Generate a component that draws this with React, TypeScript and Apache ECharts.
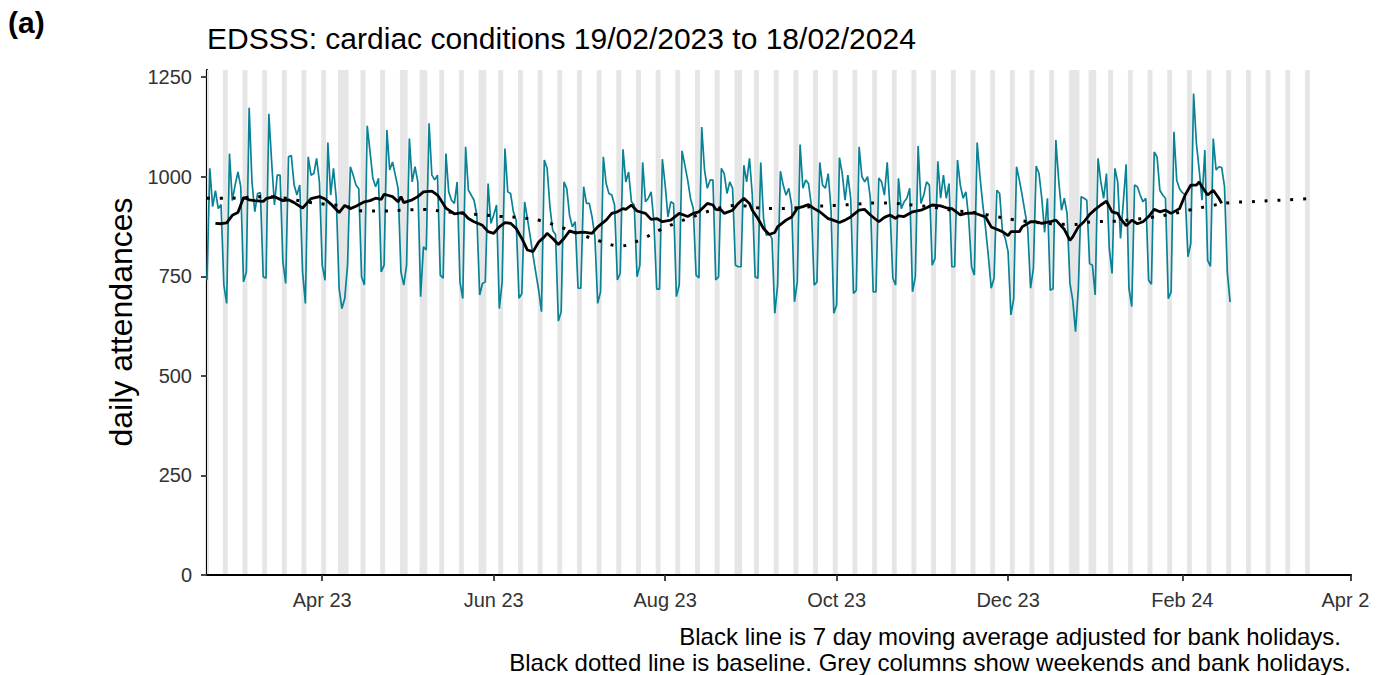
import React, { useEffect, useRef } from "react";
import * as echarts from "echarts";

// Day 0 = Sunday 19/02/2023
const START_DATE = "2023-02-19";
const START = Date.parse(START_DATE + "T00:00:00Z");
const dayOf = (iso: string) => Math.round((Date.parse(iso + "T00:00:00Z") - START) / 86400000);

// Daily attendances 19/02/2023 .. 18/02/2024 (weeks Sun..Sat)
const dailyAttendances = [
  740, 1021, 925, 965, 920, 930, 728,
  682, 1058, 940, 979, 1012, 975, 736,
  761, 1173, 987, 912, 958, 960, 749,
  745, 1158, 1037, 929, 1004, 1004, 786,
  732, 1050, 1053, 979, 954, 979, 761,
  682, 1050, 1004, 1008, 1046, 987, 778,
  740, 1086, 954, 1021, 945, 720, 669,
  694, 778, 1025, 1004, 979, 970, 749,
  728, 1128, 1063, 996, 975, 996, 761,
  778, 1117, 1017, 1037, 1004, 970, 761,
  728, 778, 1096, 987, 1025, 987, 699,
  824, 816, 1134, 1004, 992, 1004, 753,
  745, 1058, 962, 941, 933, 987, 736,
  694, 1075, 966, 954, 941, 904, 703,
  732, 736, 983, 883, 904, 929, 669,
  736, 1071, 962, 958, 912, 891, 695,
  706, 937, 895, 849, 802, 758, 715,
  661, 1042, 1021, 925, 865, 855, 638,
  661, 987, 970, 902, 874, 887, 720,
  720, 975, 933, 933, 899, 849, 682,
  711, 1050, 983, 958, 954, 929, 741,
  757, 1069, 987, 1012, 937, 929, 749,
  778, 1036, 937, 946, 962, 887, 718,
  718, 1044, 979, 899, 937, 933, 699,
  728, 1065, 1029, 992, 946, 920, 753,
  746, 1125, 1017, 971, 992, 992, 741,
  749, 1021, 1008, 958, 987, 970, 778,
  774, 774, 1029, 987, 1046, 954, 749,
  745, 1036, 895, 853, 858, 845, 657,
  728, 1014, 979, 954, 971, 929, 686,
  736, 1081, 971, 992, 983, 929, 728,
  736, 1036, 979, 971, 1008, 918, 657,
  678, 1048, 1008, 941, 1004, 946, 707,
  715, 1075, 1000, 987, 1000, 946, 711,
  711, 997, 987, 954, 1036, 918, 745,
  728, 996, 920, 937, 946, 971, 711,
  749, 1077, 933, 954, 987, 979, 778,
  795, 1039, 946, 1004, 946, 983, 774,
  774, 1042, 979, 946, 962, 895, 774,
  753, 1086, 1000, 930, 870, 800, 720,
  745, 966, 958, 862, 845, 812, 653,
  694, 1025, 992, 954, 912, 870, 720,
  770, 1027, 1008, 945, 860, 946, 715,
  719, 1092, 991, 916, 946, 907, 733,
  690, 611, 720, 950, 946, 941, 782,
  778, 703, 1046, 987, 946, 1008, 820,
  757, 1021, 987, 845, 937, 1031, 720,
  674, 979, 975, 954, 937, 946, 740,
  730, 1062, 1050, 966, 954, 946, 694,
  711, 1113, 991, 970, 960, 955, 799,
  833, 1209, 1084, 1017, 941, 1067, 790,
  775, 1096, 1017, 1025, 1023, 975, 760,
  685,
];

// 7 day moving average (day index, value)
const maDays = [
  3, 5, 7, 9, 11, 13, 15, 17, 20, 21, 24, 27, 29, 31, 34, 37, 40, 42, 44, 47,
  49, 51, 53, 56, 58, 60, 62, 63, 66, 68, 69, 70, 73, 75, 77, 80, 82, 84, 85, 88,
  91, 93, 95, 98, 100, 102, 104, 106, 108, 110, 112, 114, 116, 118, 120, 121, 123, 125, 127, 129,
  131, 134, 137, 139, 142, 144, 146, 148, 149, 151, 153, 156, 158, 160, 162, 165, 168, 171, 173, 175,
  178, 180, 181, 183, 184, 187, 189, 191, 193, 194, 196, 198, 200, 202, 203, 206, 208, 210, 212, 214,
  216, 218, 221, 222, 225, 227, 229, 232, 234, 236, 239, 241, 243, 245, 246, 248, 251, 254, 256, 258,
  261, 263, 265, 268, 270, 273, 275, 277, 279, 281, 283, 285, 286, 289, 290, 293, 295, 297, 300, 302,
  305, 307, 308, 310, 312, 314, 316, 318, 320, 322, 324, 325, 327, 329, 331, 333, 335, 337, 339, 341,
  343, 346, 348, 350, 352, 353, 354, 356, 358, 360, 361,
];
const maValues = [
  883, 882, 884, 903, 910, 948, 942, 940, 938, 945, 950, 940, 942, 935, 921, 945, 950, 944, 932, 910,
  928, 920, 926, 937, 940, 946, 943, 956, 950, 937, 950, 935, 942, 950, 962, 964, 954, 933, 921, 907,
  910, 895, 887, 878, 862, 858, 874, 885, 883, 870, 845, 816, 812, 836, 849, 858, 845, 830, 845, 864,
  859, 861, 858, 874, 891, 908, 912, 920, 918, 929, 914, 908, 893, 895, 887, 891, 908, 900, 908, 912,
  933, 929, 918, 916, 908, 916, 933, 946, 933, 916, 895, 870, 855, 860, 874, 891, 899, 921, 925, 930,
  920, 912, 895, 893, 885, 891, 899, 916, 918, 904, 887, 898, 904, 895, 902, 900, 912, 916, 922, 929,
  927, 922, 920, 904, 908, 909, 904, 899, 874, 868, 862, 852, 862, 862, 874, 887, 887, 883, 887, 891,
  868, 840, 849, 874, 887, 905, 918, 929, 939, 912, 908, 895, 877, 891, 882, 887, 900, 918, 912, 916,
  908, 920, 954, 979, 979, 987, 975, 954, 966, 946, 933,
];

// Baseline (day index, value)
const baselineDays = [
  0, 7, 14, 21, 28, 35, 42, 49, 56, 63, 70, 77, 84, 91, 98, 105, 112, 119, 126, 133,
  140, 147, 154, 161, 168, 175, 182, 189, 196, 203, 210, 217, 224, 231, 238, 245, 252, 259, 266, 273,
  280, 287, 294, 301, 308, 315, 322, 329, 336, 343, 350, 357, 364, 371, 378, 385, 392,
];
const baselineValues = [
  946, 946, 948, 950, 946, 937, 931, 926, 914, 914, 916, 918, 913, 908, 904, 900, 897, 889, 873, 855,
  838, 826, 841, 866, 887, 905, 921, 928, 922, 920, 922, 926, 928, 931, 934, 933, 928, 923, 915, 910,
  901, 892, 886, 882, 880, 887, 888, 892, 898, 906, 917, 927, 935, 937, 940, 942, 945,
];

const bankHolidays = [
  "2023-04-07", "2023-04-10", "2023-05-01", "2023-05-08", "2023-05-29",
  "2023-08-28", "2023-12-25", "2023-12-26", "2024-01-01",
];
const greyFirstDay = "2023-02-18";
const greyLastDay = "2024-03-17";

const xTickDates = ["2023-04-01", "2023-06-01", "2023-08-01", "2023-10-01", "2023-12-01", "2024-02-01", "2024-04-01"];
const xTickLabels = ["Apr 23", "Jun 23", "Aug 23", "Oct 23", "Dec 23", "Feb 24", "Apr 24"];
const yTicks = [0, 250, 500, 750, 1000, 1250];

const FONT = '"Liberation Sans", Arial, Helvetica, sans-serif';

function greyRuns(): number[][] {
  const bh = new Set(bankHolidays.map(dayOf));
  const a = dayOf(greyFirstDay);
  const b = dayOf(greyLastDay);
  const runs: number[][] = [];
  let cur: number[] | null = null;
  for (let d = a; d <= b; d++) {
    const wd = new Date(START + d * 86400000).getUTCDay();
    const grey = wd === 0 || wd === 6 || bh.has(d);
    if (grey) {
      if (cur && cur[1] === d - 1) cur[1] = d;
      else {
        cur = [d, d];
        runs.push(cur);
      }
    }
  }
  return runs.map(([s, e]) => [s - 0.37, e + 0.37]);
}

export default function App() {
  const ref = useRef<HTMLDivElement>(null);
  useEffect(() => {
    if (!ref.current) return;
    const chart = echarts.init(ref.current, undefined, { renderer: "svg" });
    const xTicks = xTickDates.map(dayOf);
    const option: any = {
      animation: false,
      backgroundColor: "#ffffff",
      textStyle: { fontFamily: FONT },
      grid: { left: 207, right: 19, top: 70, bottom: 100, containLabel: false, outerBoundsMode: "none" },
      xAxis: {
        type: "value",
        min: 0,
        max: dayOf("2024-04-01"),
        splitLine: { show: false },
        axisLine: { show: true, onZero: false, lineStyle: { color: "#000", width: 2.2 } },
        axisTick: { show: true, customValues: xTicks, length: 6, lineStyle: { color: "#333", width: 1.8 } },
        axisLabel: {
          customValues: xTicks,
          margin: 15,
          fontSize: 20,
          color: "#333",
          fontFamily: FONT,
          hideOverlap: false,
          formatter: (v: number) => {
            const i = xTicks.indexOf(Math.round(v));
            return i >= 0 ? xTickLabels[i] : "";
          },
        },
      },
      yAxis: {
        type: "value",
        min: 0,
        max: 1268,
        splitLine: { show: false },
        axisLine: { show: true, lineStyle: { color: "#000", width: 2.2 } },
        axisTick: { show: true, customValues: yTicks, length: 6, lineStyle: { color: "#333", width: 1.8 } },
        axisLabel: {
          customValues: yTicks,
          margin: 15,
          fontSize: 20,
          color: "#333",
          fontFamily: FONT,
          formatter: (v: number) => String(Math.round(v)),
        },
      },
      graphic: [
        { type: "text", x: 8, y: 22, style: { text: "(a)", font: `bold 30px ${FONT}`, fill: "#000", align: "left", verticalAlign: "middle" } },
        { type: "text", x: 207, y: 38, style: { text: "EDSSS: cardiac conditions 19/02/2023 to 18/02/2024", font: `30px ${FONT}`, fill: "#000", align: "left", verticalAlign: "middle" } },
        { type: "text", x: 121, y: 322, rotation: Math.PI / 2, style: { text: "daily attendances", font: `32px ${FONT}`, fill: "#000", align: "center", verticalAlign: "middle" } },
        { type: "text", x: 1341, y: 636, style: { text: "Black line is 7 day moving average adjusted for bank holidays.", font: `24px ${FONT}`, fill: "#000", align: "right", verticalAlign: "middle" } },
        { type: "text", x: 1351, y: 662, style: { text: "Black dotted line is baseline. Grey columns show weekends and bank holidays.", font: `24px ${FONT}`, fill: "#000", align: "right", verticalAlign: "middle" } },
      ],
      series: [
        {
          type: "custom",
          name: "grey",
          silent: true,
          z: 1,
          encode: { x: [0, 1] },
          data: greyRuns(),
          renderItem: (params: any, api: any) => {
            const cs = params.coordSys;
            let x0 = api.coord([api.value(0), 0])[0];
            let x1 = api.coord([api.value(1), 0])[0];
            x0 = Math.max(x0, cs.x);
            x1 = Math.min(x1, cs.x + cs.width);
            if (x1 <= x0) return null;
            return {
              type: "rect",
              shape: { x: x0, y: cs.y, width: x1 - x0, height: cs.height - 1 },
              style: { fill: "#e6e6e6" },
            };
          },
        },
        {
          type: "line",
          name: "daily",
          z: 2,
          showSymbol: false,
          symbol: "none",
          data: dailyAttendances.map((v, i) => [i, v]),
          lineStyle: { color: "#0a8296", width: 1.7 },
        },
        {
          type: "line",
          name: "baseline",
          z: 3,
          smooth: 0.4,
          showSymbol: false,
          symbol: "none",
          data: baselineDays.map((d, i) => [d, baselineValues[i]]),
          lineStyle: { color: "#000", width: 3, type: [3, 9.8], cap: "butt" },
        },
        {
          type: "line",
          name: "ma",
          z: 4,
          showSymbol: false,
          symbol: "none",
          data: maDays.map((d, i) => [d, maValues[i]]),
          lineStyle: { color: "#000", width: 2.8 },
        },
      ],
    };
    chart.setOption(option);
    return () => chart.dispose();
  }, []);
  return (
    <div style={{ position: "fixed", left: 0, top: 0, width: 1386, height: 675, background: "#fff" }}>
      <div ref={ref} style={{ position: "absolute", left: 0, top: 0, width: 1370, height: 675, overflow: "hidden" }} />
    </div>
  );
}
